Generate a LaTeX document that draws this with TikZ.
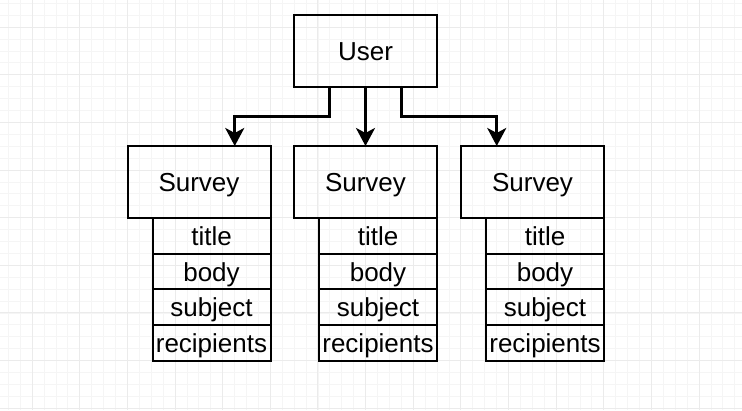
\documentclass[tikz,border=0pt]{standalone}
\usepackage{fontspec}
\setmainfont{Liberation Sans}
\usetikzlibrary{positioning}
\usetikzlibrary{arrows.meta, calc}

\begin{document}
\begin{tikzpicture}[x=1pt,y=-1pt,
  box/.style = {draw, line width=2pt, outer sep=0pt, inner sep=0pt,
    font=\fontsize{26}{30}\selectfont, text height=24pt, text depth=5pt},
  entity/.style = {box, minimum width=143pt, minimum height=72pt},
  field/.style = {box, minimum width=118pt, minimum height=35.7pt},
  conn/.style = {line width=3pt, -{Stealth[length=18pt,width=19pt,inset=5pt]}},
  minor/.style = {draw=black!4, line width=0.6pt},
  major/.style = {draw=black!8, line width=0.8pt}]
  \useasboundingbox[fill=white] (0,0) rectangle (742,410);
  % grid
  \foreach \k in {-3,...,60} \draw[minor] ({32+\k*11.91},0) -- ({32+\k*11.91},410);
  \foreach \k in {-3,...,33} \draw[minor] (0,{27+\k*11.91}) -- (742,{27+\k*11.91});
  \foreach \k in {-1,...,15} \draw[major] ({32+\k*47.64},0) -- ({32+\k*47.64},410);
  \foreach \k in {-1,...,8} \draw[major] (0,{27+\k*47.64}) -- (742,{27+\k*47.64});

  \node[entity] (user) at (365.5,51) {User};
  \foreach \i/\x in {1/199, 2/365.5, 3/532.5} {
    \node[entity] (s\i) at (\x,182) {Survey};
    \node[field, below left=0pt and 0pt of s\i.south east] (title\i) {title};
    \node[field, below=0pt of title\i] (body\i) {body};
    \node[field, below=0pt of body\i] (subject\i) {subject};
    \node[field, below=0pt of subject\i] (recip\i) {recipients};
  }

  \draw[conn] ($(user.south west)!0.25!(user.south east)$) -- ++(0,29.5)
    -| ($(s1.north west)!0.75!(s1.north east)$);
  \draw[conn] (user.south) -- (s2.north);
  \draw[conn] ($(user.south west)!0.75!(user.south east)$) -- ++(0,29.5)
    -| ($(s3.north west)!0.25!(s3.north east)$);
\end{tikzpicture}
\end{document}
